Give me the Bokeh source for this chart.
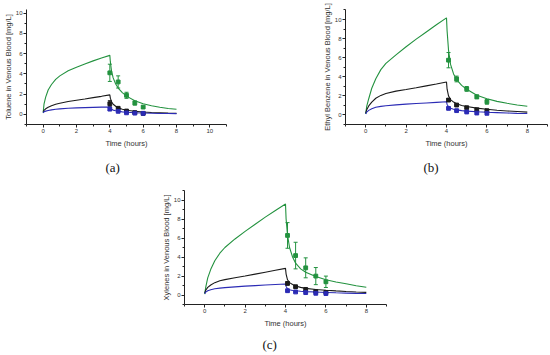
from bokeh.plotting import figure
from bokeh.models import Range1d, FixedTicker, Title, Whisker, TeeHead, ColumnDataSource, Spacer
from bokeh.layouts import column, row
from bokeh.embed import file_html
from bokeh.resources import INLINE

# ---------------- data ----------------
t_model = [0, 0.05, 0.15, 0.3, 0.5, 0.75, 1, 1.5, 2, 2.5, 3, 3.5, 4,
           4.03, 4.1, 4.2, 4.35, 4.5, 4.75, 5, 5.5, 6, 6.5, 7, 7.5, 8]

# (a) Toluene
tol_green = [0.15, 1.0, 1.7, 2.4, 2.95, 3.45, 3.8, 4.3, 4.65, 4.98, 5.28, 5.56, 5.82,
             5.2, 4.3, 3.6, 3.0, 2.6, 2.15, 1.8, 1.35, 1.05, 0.85, 0.7, 0.58, 0.5]
tol_black = [0.25, 0.4, 0.55, 0.7, 0.85, 1.0, 1.1, 1.27, 1.4, 1.52, 1.65, 1.78, 1.92,
             1.6, 1.25, 1.0, 0.8, 0.65, 0.5, 0.4, 0.3, 0.23, 0.18, 0.15, 0.12, 0.1]
tol_blue = [0.15, 0.25, 0.32, 0.38, 0.44, 0.5, 0.54, 0.6, 0.64, 0.67, 0.69, 0.71, 0.72,
            0.6, 0.5, 0.42, 0.36, 0.31, 0.25, 0.21, 0.16, 0.13, 0.11, 0.09, 0.08, 0.07]
tol_t_obs = [4, 4.5, 5, 5.5, 6]
tol_green_obs = [4.1, 3.2, 1.88, 1.12, 0.72]
tol_green_err = [0.85, 0.6, 0.3, 0.2, 0.1]
tol_black_obs = [1.05, 0.6, 0.33, 0.18, 0.1]
tol_black_err = [0.3, 0.1, 0.08, 0.05, 0.05]
tol_blue_obs = [0.52, 0.3, 0.15, 0.12, 0.1]
tol_blue_err = [0.15, 0.05, 0.05, 0.03, 0.03]

# (b) Ethyl benzene
eb_green = [0.1, 0.9, 1.7, 2.8, 3.8, 4.75, 5.4, 6.3, 7.15, 7.95, 8.7, 9.45, 10.17,
            8.8, 6.8, 5.3, 4.3, 3.7, 3.1, 2.7, 2.07, 1.7, 1.42, 1.22, 1.05, 0.92]
eb_black = [0.2, 0.55, 0.95, 1.35, 1.75, 2.05, 2.25, 2.5, 2.67, 2.85, 3.05, 3.25, 3.46,
            2.7, 2.0, 1.6, 1.35, 1.18, 1.0, 0.88, 0.72, 0.6, 0.5, 0.42, 0.36, 0.3]
eb_blue = [0.1, 0.3, 0.48, 0.65, 0.8, 0.9, 0.97, 1.06, 1.13, 1.2, 1.26, 1.32, 1.38,
           1.1, 0.85, 0.7, 0.6, 0.53, 0.45, 0.4, 0.33, 0.28, 0.24, 0.2, 0.17, 0.15]
eb_t_obs = [4.1, 4.5, 5, 5.5, 6]
eb_green_obs = [5.74, 3.77, 2.73, 1.9, 1.38]
eb_green_err = [0.8, 0.3, 0.25, 0.2, 0.25]
eb_black_obs = [1.56, 1.04, 0.76, 0.55, 0.45]
eb_black_err = [0.15, 0.08, 0.08, 0.1, 0.1]
eb_blue_obs = [0.69, 0.45, 0.31, 0.2, 0.17]
eb_blue_err = [0.1, 0.05, 0.05, 0.08, 0.08]

# (c) Xylenes
xy_green = [0.1, 0.8, 1.8, 2.7, 3.6, 4.4, 5.0, 5.9, 6.7, 7.45, 8.2, 8.9, 9.58,
            8.0, 6.3, 5.0, 4.0, 3.35, 2.75, 2.4, 1.95, 1.6, 1.37, 1.18, 0.98, 0.82]
xy_black = [0.2, 0.5, 0.8, 1.05, 1.3, 1.5, 1.62, 1.82, 2.0, 2.2, 2.4, 2.6, 2.8,
            2.2, 1.6, 1.3, 1.1, 0.95, 0.8, 0.7, 0.58, 0.5, 0.43, 0.37, 0.32, 0.28]
xy_blue = [0.15, 0.3, 0.45, 0.56, 0.65, 0.72, 0.78, 0.86, 0.93, 0.99, 1.05, 1.1, 1.15,
           0.9, 0.65, 0.55, 0.48, 0.44, 0.39, 0.36, 0.31, 0.27, 0.23, 0.2, 0.17, 0.15]
xy_t_obs = [4.1, 4.5, 5, 5.5, 6]
xy_green_obs = [6.27, 4.15, 2.86, 1.99, 1.39]
xy_green_err = [1.35, 1.4, 1.05, 0.9, 0.6]
xy_black_obs = [1.22, 0.87, 0.59, 0.38, 0.28]
xy_black_err = [0.15, 0.1, 0.1, 0.08, 0.08]
xy_blue_obs = [0.45, 0.32, 0.25, 0.18, 0.15]
xy_blue_err = [0.08, 0.05, 0.05, 0.05, 0.05]

y_ticks = [0, 2, 4, 6, 8, 10]
y_minor = [-1, 1, 3, 5, 7, 9, 11]

GREEN = "#23923f"
BLACK = "#1a1a1a"
BLUE = "#2b2bb5"
SANS = "Liberation Sans"
SERIF = "Liberation Serif"


def make_panel(width, height, borders, xr, yr, x_ticks, x_minor, curves, obs,
               ytitle, letter, letter_offset, letter_standoff):
    L, R, T, B = borders
    p = figure(width=width, height=height, x_range=Range1d(*xr), y_range=Range1d(*yr),
               output_backend="svg", toolbar_location=None,
               min_border_left=L, min_border_right=R, min_border_top=T, min_border_bottom=B)
    p.xgrid.visible = False
    p.ygrid.visible = False
    p.outline_line_color = None
    p.xaxis.ticker = FixedTicker(ticks=x_ticks, minor_ticks=x_minor)
    p.yaxis.ticker = FixedTicker(ticks=y_ticks, minor_ticks=y_minor)
    p.xaxis.axis_label = "Time (hours)"
    p.yaxis.axis_label = ytitle
    p.xaxis.axis_label_standoff = 3
    p.yaxis.axis_label_standoff = 0
    for ax in (p.xaxis[0], p.yaxis[0]):
        ax.axis_line_color = "#222222"
        ax.axis_line_width = 1
        ax.major_tick_in = 0
        ax.major_tick_out = 3
        ax.minor_tick_in = 0
        ax.minor_tick_out = 2
        ax.major_tick_line_color = "#222222"
        ax.minor_tick_line_color = "#222222"
        ax.major_label_text_font = SANS
        ax.major_label_text_font_size = "6px"
        ax.major_label_text_color = "#333333"
        ax.major_label_standoff = 1
        ax.axis_label_text_font = SANS
        ax.axis_label_text_font_size = "7.5px"
        ax.axis_label_text_font_style = "normal"
        ax.axis_label_text_color = "#333333"
    for ys, col in curves:
        p.line(t_model, ys, line_color=col, line_width=1.1)
    for t_obs, ys, err, col in obs:
        src = ColumnDataSource(dict(x=t_obs, y=ys,
                                    lo=[v - e for v, e in zip(ys, err)],
                                    hi=[v + e for v, e in zip(ys, err)]))
        w = Whisker(source=src, base="x", lower="lo", upper="hi", line_color=col, line_width=1,
                    upper_head=TeeHead(size=4, line_color=col, line_width=1),
                    lower_head=TeeHead(size=4, line_color=col, line_width=1))
        p.add_layout(w)
        p.scatter("x", "y", source=src, marker="square", size=3.8, fill_color=col,
                  line_color=col, line_width=1)
    p.add_layout(Title(text=letter, align="left", offset=letter_offset,
                       standoff=letter_standoff, text_font=SERIF, text_font_size="13px",
                       text_font_style="normal", text_color="#111111"), "below")
    return p


pa = make_panel(318, 182, (23, 92, 9, 58), (-1, 11), (-1, 10.35),
                [0, 2, 4, 6, 8, 10], [-1, 1, 3, 5, 7, 9, 11],
                [(tol_green, GREEN), (tol_black, BLACK), (tol_blue, BLUE)],
                [(tol_t_obs, tol_green_obs, tol_green_err, GREEN),
                 (tol_t_obs, tol_black_obs, tol_black_err, BLACK),
                 (tol_t_obs, tol_blue_obs, tol_blue_err, BLUE)],
                "Toluene in Venous Blood [mg/L]", "(a)", 79, 15)

pb = make_panel(232, 182, (27, 3, 9, 58), (-1, 9), (-1, 11.05),
                [0, 2, 4, 6, 8], [-1, 1, 3, 5, 7, 9],
                [(eb_green, GREEN), (eb_black, BLACK), (eb_blue, BLUE)],
                [(eb_t_obs, eb_green_obs, eb_green_err, GREEN),
                 (eb_t_obs, eb_black_obs, eb_black_err, BLACK),
                 (eb_t_obs, eb_blue_obs, eb_blue_err, BLUE)],
                "Ethyl Benzene in Venous Blood [mg/L]", "(b)", 78, 15)

pc = make_panel(242, 173, (30, 10, 8, 50), (-1, 9), (-1, 11),
                [0, 2, 4, 6, 8], [-1, 1, 3, 5, 7, 9],
                [(xy_green, GREEN), (xy_black, BLACK), (xy_blue, BLUE)],
                [(xy_t_obs, xy_green_obs, xy_green_err, GREEN),
                 (xy_t_obs, xy_black_obs, xy_black_err, BLACK),
                 (xy_t_obs, xy_blue_obs, xy_blue_err, BLUE)],
                "Xylenes in Venous Blood [mg/L]", "(c)", 78, 8)

layout = column(row(pa, pb), row(Spacer(width=154, height=173), pc))

open("out.html", "w").write(file_html(layout, INLINE))
